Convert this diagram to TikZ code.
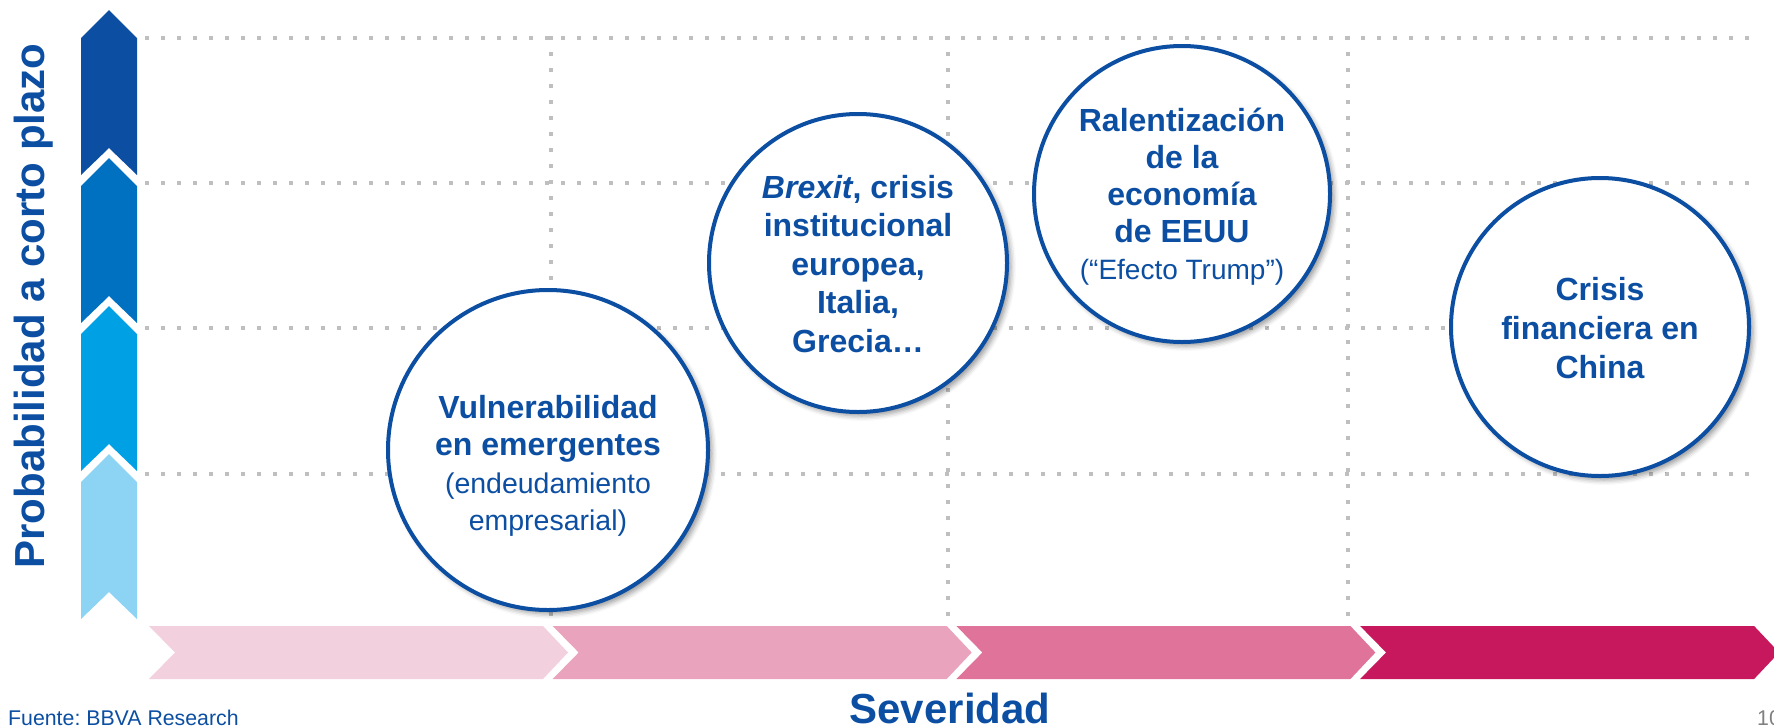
\documentclass[tikz,border=0pt]{standalone}
\usepackage{fontspec}
\setmainfont{Liberation Sans}
\usetikzlibrary{shadows.blur}
\frenchspacing
\definecolor{bblue}{HTML}{0B4EA2}
\definecolor{ablueA}{HTML}{0B4EA2}
\definecolor{ablueB}{HTML}{0070C0}
\definecolor{ablueC}{HTML}{00A0E4}
\definecolor{ablueD}{HTML}{8DD3F3}
\definecolor{pinkA}{HTML}{F2D0DE}
\definecolor{pinkB}{HTML}{E9A3BD}
\definecolor{pinkC}{HTML}{DF7399}
\definecolor{pinkD}{HTML}{C8185D}
\definecolor{dotgray}{HTML}{BFBFBF}
\newcommand\regA{\mdseries\fontsize{28.5}{37.5}\selectfont}
\newcommand\regB{\mdseries\fontsize{28}{36}\selectfont}
\begin{document}
\begin{tikzpicture}[x=1pt,y=-1pt,
  gridline/.style={dotgray, line width=4pt, dash pattern=on 4pt off 12pt},
  bubble/.style={circle, draw=bblue, line width=4pt, fill=white, inner sep=0pt,
    blur shadow={shadow xshift=4pt, shadow yshift=-4pt, shadow blur radius=5pt, shadow opacity=40}},
  btext/.style={text=bblue, align=center, inner sep=0pt},
]
\useasboundingbox (0,0) rectangle (1774,726);

% dotted grid
\foreach \y [count=\k] in {38,183,328,474}{
  \coordinate (hl\k) at (145,\y);
  \coordinate (hr\k) at (1749,\y);
  \draw[gridline] (hl\k) -- (hr\k);
}
\foreach \x [count=\k] in {551,948,1348}{
  \coordinate (vt\k) at (\x,36);
  \coordinate (vb\k) at (\x,624);
  \draw[gridline] (vt\k) -- (vb\k);
}

% vertical chevron column
\foreach \i/\c in {0/ablueA,1/ablueB,2/ablueC,3/ablueD}{
  \pgfmathsetmacro\t{10+148*\i}
  \fill[\c] (109,\t) -- (137,{\t+28}) -- (137,{\t+165}) -- (109,{\t+138}) -- (81,{\t+165}) -- (81,{\t+28}) -- cycle;
}

% horizontal chevron row
\foreach \i/\c in {0/pinkA,1/pinkB,2/pinkC,3/pinkD}{
  \pgfmathsetmacro\l{149+403.7*\i}
  \fill[\c] (\l,626) -- ({\l+394},626) -- ({\l+419},652.5) -- ({\l+394},679) -- (\l,679) -- ({\l+26},652.5) -- cycle;
}

% bubbles
\node[bubble, minimum size=320pt] (c1) at (548,450) {};
\node[bubble, minimum size=298pt] (c2) at (858,263) {};
\node[bubble, minimum size=296pt] (c3) at (1182,194) {};
\node[bubble, minimum size=298pt] (c4) at (1600,327) {};

\node[btext, font=\bfseries\fontsize{32}{37.5}\selectfont] (t1) at (548,466)
  {Vulnerabilidad\\en emergentes\\\regA(endeudamiento\\\regA empresarial)};
\node[btext, font=\bfseries\fontsize{32}{38.5}\selectfont] (t2) at (858,264)
  {\textit{Brexit}, crisis\\institucional\\europea,\\Italia,\\Grecia…};
\node[btext, font=\bfseries\fontsize{32}{37}\selectfont] (t3) at (1182,197)
  {Ralentización\\de la\\economía\\de EEUU\\\regB(“Efecto Trump”)};
\node[btext, font=\bfseries\fontsize{32}{39}\selectfont] (t4) at (1600,328)
  {Crisis\\financiera en\\China};

% axis labels
\node[rotate=90, text=bblue, inner sep=0pt, font=\bfseries\fontsize{42}{50}\selectfont] (ylab) at (34,306) {Probabilidad a corto plazo};
\node[anchor=base, text=bblue, inner sep=0pt, font=\bfseries\fontsize{42}{50}\selectfont] (xlab) at (950,723) {Severidad};
\node[anchor=base west, text=bblue, inner sep=0pt, font=\fontsize{21.3}{25}\selectfont] (src) at (8,725) {Fuente: BBVA Research};
\node[anchor=base west, text=gray, inner sep=0pt, font=\fontsize{21.3}{25}\selectfont] (pg) at (1757,725) {10};
\end{tikzpicture}
\end{document}
